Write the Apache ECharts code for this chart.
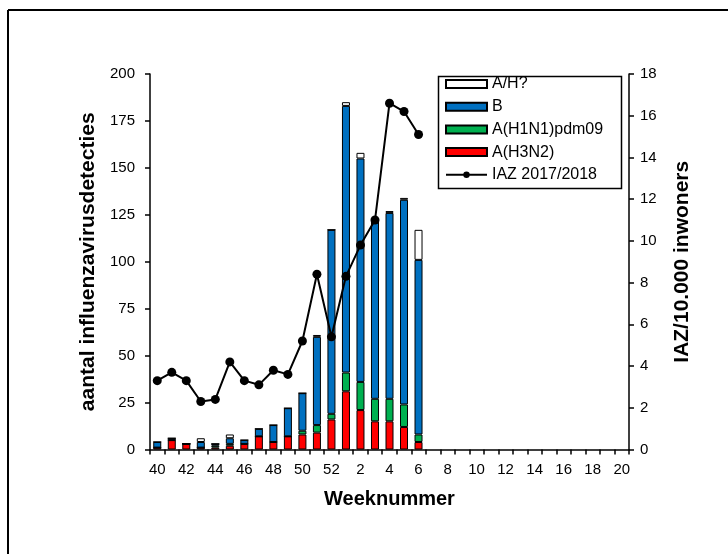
<!DOCTYPE html>
<html>
<head>
<meta charset="utf-8">
<script src="https://cdn.jsdelivr.net/npm/echarts@6/dist/echarts.min.js"></script>
<style>
html,body{margin:0;padding:0;background:#fff;}
#chart{width:728px;height:554px;}
</style>
</head>
<body>
<div id="chart"></div>
<script>
// Weeks 40..52 (2017) then 1..20 (2018)
const weeks = [40,41,42,43,44,45,46,47,48,49,50,51,52,1,2,3,4,5,6,7,8,9,10,11,12,13,14,15,16,17,18,19,20];
// Stacked detections per week (bottom to top: A(H3N2), A(H1N1)pdm09, B, A/H?)
const h3n2 = [1,5,3,1,1,2,3,7,4,7,8,9,16,31,21,15,15,12,4];
const h1n1 = [0,0,0,0,1,1,0,0,0,0,2,4,3,10,15,12,12,12,4];
const fluB = [3,1,0,3,1,3,2,4,9,15,20,47,98,142,119,95,99,109,93];
const ahUnknown = [0,0,0,2,0,2,0,0,0,0,0,1,0,2,3,0,1,1,16];
// IAZ per 10.000 inhabitants, season 2017/2018
const iaz = [3.3,3.7,3.3,2.3,2.4,4.2,3.3,3.1,3.8,3.6,5.2,8.4,5.4,8.3,9.8,11.0,16.6,16.2,15.1];

const leftTicks = {min:0, max:200, interval:25};
const rightTicks = {min:0, max:18, interval:2};

const FONT = 'Liberation Sans, Arial, sans-serif';
const pad = arr => weeks.map((w,i) => i < arr.length ? arr[i] : null);

const chart = echarts.init(document.getElementById('chart'), null, {renderer:'canvas'});
const barBase = {type:'bar', stack:'det', barWidth:8, yAxisIndex:0};

chart.setOption({
  animation:false,
  backgroundColor:'#fff',
  textStyle:{fontFamily:FONT},
  grid:{left:150, right:99, top:74, bottom:104.5, containLabel:false},
  legend:{
    orient:'vertical', left:445, top:75, padding:0,
    itemWidth:41, itemHeight:8, itemGap:4.7, itemTextGap:5,
    textStyle:{fontFamily:FONT, fontSize:16, color:'#000', lineHeight:18},
    data:[
      {name:'A/H?', icon:'rect'},
      {name:'B', icon:'rect'},
      {name:'A(H1N1)pdm09', icon:'rect'},
      {name:'A(H3N2)', icon:'rect'},
      {name:'IAZ 2017/2018'}
    ]
  },
  graphic:[
    {type:'rect', left:436, top:74, shape:{width:183, height:112}, style:{fill:null, stroke:'#000', lineWidth:1.5}, z:-1},
    {type:'line', shape:{x1:8,y1:10,x2:740,y2:10}, style:{stroke:'#000', lineWidth:2}},
    {type:'line', shape:{x1:8,y1:10,x2:8,y2:560}, style:{stroke:'#000', lineWidth:2}}
  ],
  xAxis:{
    type:'category', data:weeks.map(String), boundaryGap:true,
    name:'Weeknummer', nameLocation:'middle', nameGap:40,
    nameTextStyle:{fontFamily:FONT, fontSize:20, fontWeight:'bold', color:'#000'},
    axisLine:{lineStyle:{color:'#000', width:1.5}},
    axisTick:{show:true, interval:0, length:5, inside:false, lineStyle:{color:'#000', width:1.5}},
    axisLabel:{interval:1, margin:13, fontFamily:FONT, fontSize:15, color:'#000'},
    splitLine:{show:false}
  },
  yAxis:[
    {type:'value', min:leftTicks.min, max:leftTicks.max, interval:leftTicks.interval,
     name:'aantal influenzavirusdetecties', nameLocation:'middle', nameRotate:90, nameGap:45,
     nameTextStyle:{fontFamily:FONT, fontSize:21, fontWeight:'bold', color:'#000'},
     axisLine:{show:true, lineStyle:{color:'#000', width:1.5}},
     axisTick:{show:true, length:5, lineStyle:{color:'#000', width:1.5}},
     axisLabel:{margin:15, fontFamily:FONT, fontSize:15, color:'#000'},
     splitLine:{show:false}},
    {type:'value', min:rightTicks.min, max:rightTicks.max, interval:rightTicks.interval, position:'right',
     name:'IAZ/10.000 inwoners', nameLocation:'middle', nameRotate:90, nameGap:43,
     nameTextStyle:{fontFamily:FONT, fontSize:21, fontWeight:'bold', color:'#000'},
     axisLine:{show:true, lineStyle:{color:'#000', width:1.5}},
     axisTick:{show:true, length:5, lineStyle:{color:'#000', width:1.5}},
     axisLabel:{margin:11, fontFamily:FONT, fontSize:15, color:'#000'},
     splitLine:{show:false}}
  ],
  series:[
    Object.assign({}, barBase, {name:'A(H3N2)', data:pad(h3n2), itemStyle:{color:'#FF0000', borderColor:'#000', borderWidth:1}}),
    Object.assign({}, barBase, {name:'A(H1N1)pdm09', data:pad(h1n1), itemStyle:{color:'#00B050', borderColor:'#000', borderWidth:1}}),
    Object.assign({}, barBase, {name:'B', data:pad(fluB), itemStyle:{color:'#0070C0', borderColor:'#000', borderWidth:1}}),
    Object.assign({}, barBase, {name:'A/H?', data:pad(ahUnknown), itemStyle:{color:'#FFFFFF', borderColor:'#000', borderWidth:1}}),
    {type:'line', name:'IAZ 2017/2018', yAxisIndex:1, data:pad(iaz), z:5,
     symbol:'circle', symbolSize:9, showSymbol:true,
     lineStyle:{color:'#000', width:2}, itemStyle:{color:'#000'}, connectNulls:false}
  ]
});
</script>
</body>
</html>
